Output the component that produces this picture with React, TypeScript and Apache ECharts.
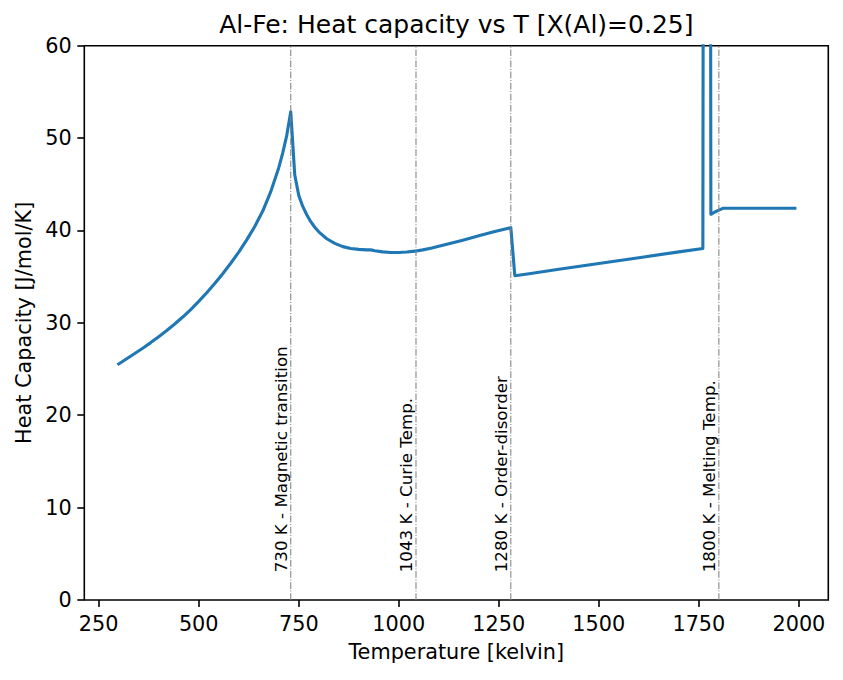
import React, { useEffect, useRef } from "react";
import * as echarts from "echarts";

// Temperature grid [K] and computed molar heat capacity [J/mol/K]
const temps = [
  300, 320, 340, 360, 380, 400, 420, 440, 460, 480, 500, 520, 540, 560, 580, 600,
  620, 640, 660, 680, 700, 710, 720, 730, 740, 750, 760, 770, 780, 790, 800, 820,
  840, 860, 880, 900, 920, 930, 940, 960, 980, 1000, 1020, 1040, 1060, 1080, 1100,
  1120, 1160, 1200, 1240, 1280, 1290, 1330, 1400, 1500, 1600, 1700, 1760, 1770,
  1780, 1790, 1800, 1810, 1990,
];
const heatCapacity = [
  25.55, 26.11, 26.68, 27.26, 27.86, 28.5, 29.17, 29.88, 30.63, 31.44, 32.32, 33.26,
  34.26, 35.32, 36.45, 37.66, 38.98, 40.43, 42.1, 44.2, 46.8, 48.4, 50.3, 52.85, 46.0,
  43.8, 42.6, 41.7, 40.95, 40.35, 39.85, 39.1, 38.6, 38.25, 38.05, 37.95, 37.9, 37.9,
  37.8, 37.68, 37.62, 37.62, 37.67, 37.76, 37.9, 38.08, 38.28, 38.5, 38.95, 39.42,
  39.88, 40.3, 35.1, 35.35, 35.8, 36.43, 37.05, 37.68, 38.05, 400, 41.75, 42.0, 42.2,
  42.4, 42.4,
];

// Reference temperatures marked with vertical lines
const markerTemps = [730, 1043, 1280, 1800];
const markerLabels = [
  "730 K - Magnetic transition",
  "1043 K - Curie Temp.",
  "1280 K - Order-disorder",
  "1800 K - Melting Temp.",
];

const xTicks = [250, 500, 750, 1000, 1250, 1500, 1750, 2000];

const FONT = "DejaVu Sans";

export default function App() {
  const ref = useRef<HTMLDivElement>(null);

  useEffect(() => {
    if (!ref.current) return;
    const chart = echarts.init(ref.current, null, { renderer: "svg" });

    const option = {
      animation: false,
      textStyle: { fontFamily: FONT },
      title: {
        text: "Al-Fe: Heat capacity vs T [X(Al)=0.25]",
        left: 456.3,
        top: 11.5,
        padding: 0,
        textAlign: "center",
        textStyle: { fontSize: 25, fontWeight: "normal", color: "#000", fontFamily: FONT },
      },
      grid: {
        left: 84.3,
        right: 14.7,
        top: 45.7,
        bottom: 80,
        show: true,
        borderColor: "#000",
        borderWidth: 1.6,
        backgroundColor: "transparent",
      },
      xAxis: {
        type: "value",
        min: 214,
        max: 2073.5,
        name: "Temperature [kelvin]",
        nameLocation: "middle",
        nameGap: 41.4,
        nameTextStyle: { fontSize: 20.8, color: "#000", fontFamily: FONT },
        splitLine: { show: false },
        axisLine: { show: false },
        axisTick: {
          show: true,
          inside: false,
          length: 7,
          customValues: xTicks,
          lineStyle: { color: "#000", width: 1.6 },
        },
        axisLabel: {
          customValues: xTicks,
          formatter: (v: number) => String(v),
          fontSize: 20.8,
          color: "#000",
          margin: 13.4,
          fontFamily: FONT,
        },
      },
      yAxis: {
        type: "value",
        min: 0,
        max: 60,
        interval: 10,
        name: "Heat Capacity [J/mol/K]",
        nameLocation: "middle",
        nameRotate: 90,
        nameGap: 49.6,
        nameTextStyle: { fontSize: 20.8, color: "#000", fontFamily: FONT },
        splitLine: { show: false },
        axisLine: { show: false },
        axisTick: {
          show: true,
          inside: false,
          length: 7,
          lineStyle: { color: "#000", width: 1.6 },
        },
        axisLabel: {
          formatter: (v: number) => String(v),
          fontSize: 20.8,
          color: "#000",
          margin: 12.5,
          fontFamily: FONT,
        },
      },
      series: [
        {
          type: "line",
          data: temps.map((t, i) => [t, heatCapacity[i]]),
          showSymbol: false,
          symbol: "none",
          clip: true,
          z: 2,
          lineStyle: { color: "#1f77b4", width: 3.1, join: "round", cap: "square" },
        },
        {
          type: "custom",
          data: markerTemps.map((t, i) => [t, i]),
          clip: false,
          z: 3,
          renderItem: (params: any, api: any) => {
            const t = api.value(0);
            const idx = api.value(1);
            const top = api.coord([t, 60]);
            const bottom = api.coord([t, 0]);
            const anchor = api.coord([t, 3]);
            return {
              type: "group",
              children: [
                {
                  type: "line",
                  shape: { x1: bottom[0], y1: bottom[1], x2: top[0], y2: top[1] },
                  style: {
                    stroke: "#808080",
                    lineWidth: 1.04,
                    lineDash: [6.7, 1.7, 1, 1.7],
                  },
                },
                {
                  type: "text",
                  x: anchor[0] - 1.3,
                  y: anchor[1],
                  rotation: Math.PI / 2,
                  style: {
                    text: markerLabels[idx],
                    fontSize: 16.7,
                    fontFamily: FONT,
                    fill: "#000",
                    align: "left",
                    verticalAlign: "bottom",
                  },
                },
              ],
            };
          },
        },
      ],
    };

    chart.setOption(option as any);
    return () => chart.dispose();
  }, []);

  return (
    <div
      ref={ref}
      style={{ position: "fixed", left: 0, top: 0, width: 843, height: 680, background: "#fff" }}
    />
  );
}
